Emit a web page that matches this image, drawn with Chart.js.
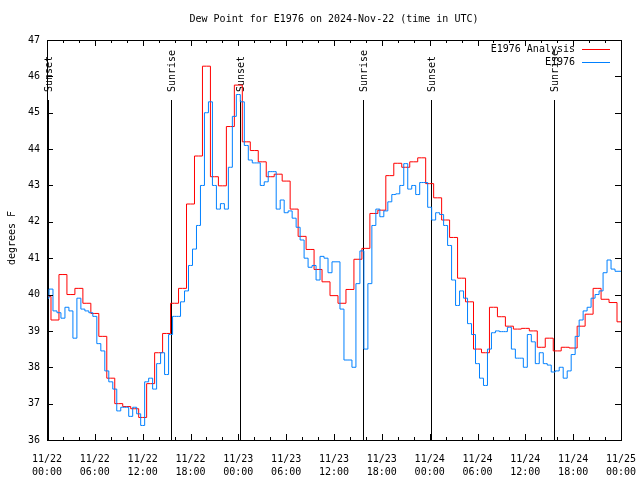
<!DOCTYPE html>
<html>
<head>
<meta charset="utf-8">
<script src="https://cdn.jsdelivr.net/npm/chart.js@4.4.0/dist/chart.umd.min.js"></script>
<style>
  body { margin: 0; background: #fff; }
  canvas { display: block; }
</style>
</head>
<body>
<canvas id="myChart" width="640" height="480"></canvas>
<script>
// analysis, one value per hour from 11/22 00:00 to 11/25 00:00
const analysis = [
  39.95, 39.3, 40.55, 40.0, 40.17, 39.76, 39.48, 38.85, 37.7, 37.0,
  36.92, 36.86, 36.62, 37.55, 38.4, 38.93, 39.76, 40.17, 42.49, 43.81,
  46.28, 43.24, 42.99, 44.62, 45.76, 44.2, 43.96, 43.65, 43.24, 43.31,
  43.12, 42.35, 41.6, 41.24, 40.69, 40.35, 39.97, 39.76, 40.14, 40.97,
  41.27, 42.23, 42.32, 43.27, 43.61, 43.5, 43.65, 43.76, 43.05, 42.66,
  42.05, 41.57, 40.45, 39.8, 38.5, 38.4, 39.65, 39.39, 39.13, 39.05,
  39.07, 39.0, 38.55, 38.8, 38.45, 38.55, 38.53, 39.13, 39.46, 40.17,
  39.87, 39.78, 39.25
];

// station obs, one value per half hour
const obsStep = 0.5;
const obs = [
  39.9, 40.15, 39.55, 39.5, 39.35, 39.65, 39.55, 38.8, 39.9, 39.6,
  39.55, 39.5, 39.4, 38.65, 38.45, 37.9, 37.6, 37.4, 36.8, 36.9,
  36.9, 36.65, 36.9, 36.72, 36.4, 37.6, 37.7, 37.4, 38.1, 38.4,
  37.8, 38.9, 39.4, 39.4, 39.8, 40.1, 40.8, 41.25, 41.9, 43.0,
  45.0, 45.3, 43.0, 42.35, 42.5, 42.35, 43.5, 44.9, 45.5, 45.3,
  44.1, 43.7, 43.62, 43.62, 43.0, 43.1, 43.38, 43.38, 42.35, 42.6,
  42.25, 42.3, 42.1, 41.85, 41.5, 41.0, 40.75, 40.8, 40.4, 41.05,
  41.0, 40.6, 40.9, 40.9, 39.6, 38.2, 38.2, 38.0, 40.3, 41.2,
  38.5, 40.3, 41.9, 42.35, 42.14, 42.3, 42.55, 42.75, 42.77, 43.0,
  43.6, 42.9, 43.0, 42.75, 43.08, 43.08, 42.4, 42.05, 42.25, 42.2,
  41.9, 41.35, 40.4, 39.7, 40.1, 39.9, 39.2, 38.9, 38.1, 37.7,
  37.5, 38.5, 38.95, 39.0, 38.98, 38.98, 39.1, 38.5, 38.25, 38.25,
  38.0, 38.9, 38.7, 38.1, 38.4, 38.1, 38.06, 37.87, 37.9, 38.0,
  37.7, 37.9, 38.35, 38.85, 39.3, 39.55, 39.65, 39.9, 40.0, 40.1,
  40.6, 40.95, 40.7, 40.64, 40.64
];

const xTickLabels = [
  ['11/22', '00:00'], ['11/22', '06:00'], ['11/22', '12:00'], ['11/22', '18:00'],
  ['11/23', '00:00'], ['11/23', '06:00'], ['11/23', '12:00'], ['11/23', '18:00'],
  ['11/24', '00:00'], ['11/24', '06:00'], ['11/24', '12:00'], ['11/24', '18:00'],
  ['11/25', '00:00']
];

const eventNames = ['Sunset', 'Sunrise', 'Sunset', 'Sunrise', 'Sunset', 'Sunrise'];
const eventHours = [0.12, 15.6, 24.2, 39.64, 48.17, 63.64];

const FONT = '10px "DejaVu Sans Mono", monospace';

const analysisPts = analysis.map((v, i) => ({ x: i, y: v }));
const obsPts = obs.map((v, i) => ({ x: i * obsStep, y: v }));

// box, inward ticks, titles, sunrise/sunset markers
const decor = {
  id: 'decor',
  beforeDatasetsDraw(chart) {
    const { ctx, chartArea: a, scales: { x } } = chart;
    ctx.save();
    ctx.strokeStyle = '#000';
    ctx.lineWidth = 1;
    ctx.fillStyle = '#000';
    ctx.font = FONT;
    eventHours.forEach((h, i) => {
      const px = Math.round(x.getPixelForValue(h)) + 0.5;
      ctx.beginPath();
      ctx.moveTo(px, 100);
      ctx.lineTo(px, a.bottom);
      ctx.stroke();
      ctx.save();
      ctx.translate(px + 1, 92);
      ctx.rotate(-Math.PI / 2);
      ctx.textAlign = 'left';
      ctx.textBaseline = 'middle';
      ctx.fillText(eventNames[i], 0, 0);
      ctx.restore();
    });
    ctx.restore();
  },
  afterDraw(chart) {
    const { ctx, chartArea: a, scales: { x, y } } = chart;
    ctx.save();
    ctx.strokeStyle = '#000';
    ctx.lineWidth = 1;
    ctx.strokeRect(a.left + 0.5, a.top + 0.5, a.right - a.left, a.bottom - a.top);

    ctx.beginPath();
    for (let h = 0; h <= 72; h += 2) {
      const px = Math.round(x.getPixelForValue(h)) + 0.5;
      const len = h % 6 === 0 ? 6 : 3;
      ctx.moveTo(px, a.bottom); ctx.lineTo(px, a.bottom - len);
      ctx.moveTo(px, a.top); ctx.lineTo(px, a.top + len);
    }
    for (let v = 36; v <= 47; v++) {
      const py = Math.round(y.getPixelForValue(v)) + 0.5;
      ctx.moveTo(a.left, py); ctx.lineTo(a.left + 6, py);
      ctx.moveTo(a.right, py); ctx.lineTo(a.right - 6, py);
    }
    ctx.stroke();

    ctx.fillStyle = '#000';
    ctx.font = FONT;
    ctx.textAlign = 'center';
    ctx.textBaseline = 'middle';
    ctx.fillText('Dew Point for E1976 on 2024-Nov-22 (time in UTC)', (a.left + a.right) / 2, 19);

    ctx.save();
    ctx.translate(12, 238);
    ctx.rotate(-Math.PI / 2);
    ctx.fillText('degrees F', 0, 0);
    ctx.restore();

    // legend
    const items = [['E1976 Analysis', '#ff0000', 49], ['E1976', '#0080ff', 62]];
    ctx.textAlign = 'right';
    items.forEach(([txt, col, ly]) => {
      ctx.fillStyle = '#000';
      ctx.fillText(txt, 575, ly);
      ctx.strokeStyle = col;
      ctx.beginPath();
      ctx.moveTo(582, ly + 0.5);
      ctx.lineTo(610, ly + 0.5);
      ctx.stroke();
    });
    ctx.restore();
  }
};

function noPad(scale) {
  scale.paddingLeft = 0;
  scale.paddingRight = 0;
  scale.paddingTop = 0;
  scale.paddingBottom = 0;
}

const ctx = document.getElementById('myChart').getContext('2d');
const chart = new Chart(ctx, {
  type: 'line',
  data: {
    datasets: [{
      label: 'E1976 Analysis',
      data: analysisPts,
      borderColor: '#ff0000',
      borderWidth: 1,
      pointRadius: 0,
      stepped: 'middle',
      order: 1
    }, {
      label: 'E1976',
      data: obsPts,
      borderColor: '#0080ff',
      borderWidth: 1,
      pointRadius: 0,
      stepped: 'middle',
      order: 0
    }]
  },
  options: {
    responsive: false,
    animation: false,
    layout: { padding: { top: 40, right: 19, left: 0, bottom: 0 } },
    plugins: { legend: { display: false }, tooltip: { enabled: false } },
    scales: {
      x: {
        type: 'linear',
        min: 0,
        max: 72,
        grid: { display: false, drawTicks: false },
        border: { display: false },
        afterFit(scale) { scale.height = 40; noPad(scale); },
        ticks: {
          stepSize: 6,
          padding: 13,
          color: '#000',
          maxRotation: 0,
          autoSkip: false,
          font: { family: '"DejaVu Sans Mono", monospace', size: 10, lineHeight: 1.3 },
          callback: v => xTickLabels[v / 6]
        }
      },
      y: {
        min: 36,
        max: 47,
        grid: { display: false, drawTicks: false },
        border: { display: false },
        afterFit(scale) { scale.width = 47; noPad(scale); },
        ticks: {
          stepSize: 1,
          padding: 7,
          color: '#000',
          font: { family: '"DejaVu Sans Mono", monospace', size: 10 }
        }
      }
    }
  },
  plugins: [decor]
});
</script>
</body>
</html>
